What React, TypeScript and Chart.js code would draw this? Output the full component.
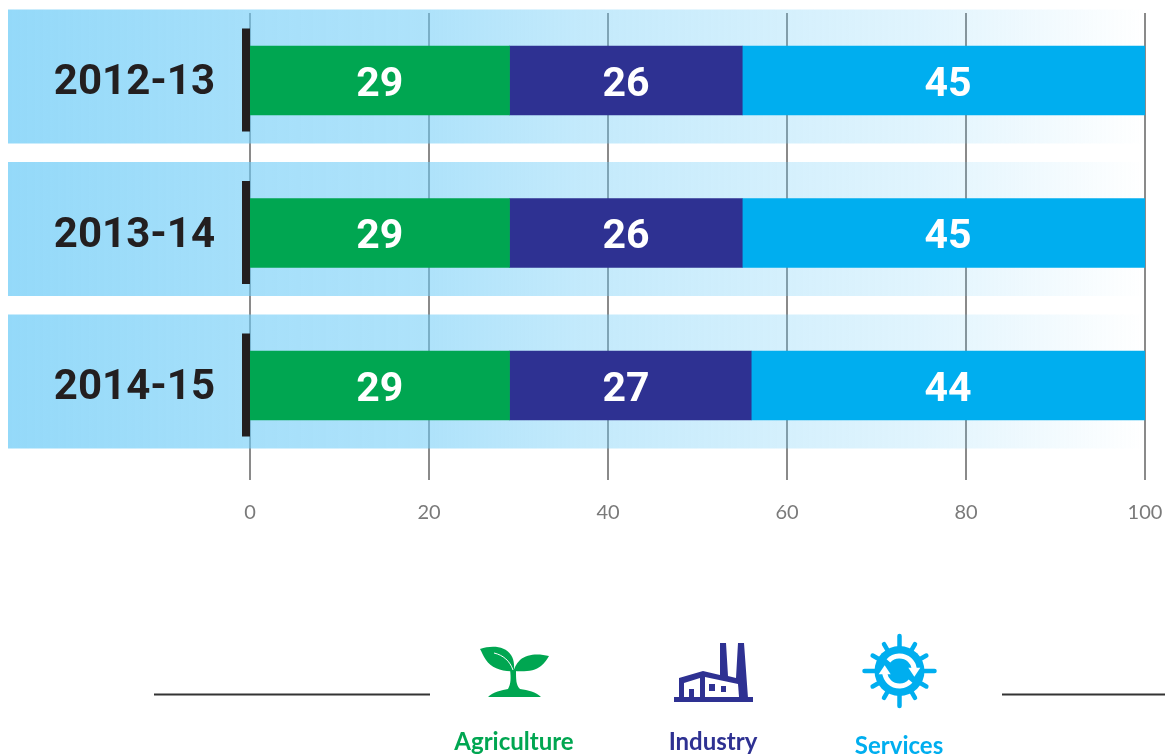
import React, { useEffect, useRef } from "react";
import { Chart, registerables } from "chart.js";

Chart.register(...registerables);

const years = ["2012-13", "2013-14", "2014-15"];
const agriculture = [29, 29, 29];
const industry = [26, 26, 27];
const services = [45, 45, 44];
const sectorNames = ["Agriculture", "Industry", "Services"];
const sectorColors = ["#00a651", "#2e3192", "#00aeef"];
// Where each sector's share is printed along the percentage axis.
const labelAnchors = [14.5, 42, 78];
const axisTicks = [0, 20, 40, 60, 80, 100];

// Grid lines first, then translucent gradient bands so the lines show through.
const backdrop = {
  id: "backdrop",
  beforeDraw(chart: any) {
    const { ctx } = chart;
    const x = chart.scales.x;
    const y = chart.scales.y;
    const left = 8;
    const right = x.getPixelForValue(100);
    ctx.save();
    ctx.strokeStyle = "#8a8a8a";
    ctx.lineWidth = 2;
    axisTicks.forEach((t) => {
      const px = x.getPixelForValue(t);
      ctx.beginPath();
      ctx.moveTo(px, 13);
      ctx.lineTo(px, 480);
      ctx.stroke();
    });
    years.forEach((_, i) => {
      const c = y.getPixelForValue(i);
      const g = ctx.createLinearGradient(left, 0, right, 0);
      g.addColorStop(0, "rgba(111,204,247,0.74)");
      g.addColorStop(0.21, "rgba(111,204,247,0.62)");
      g.addColorStop(0.37, "rgba(111,204,247,0.56)");
      g.addColorStop(0.5, "rgba(111,204,247,0.42)");
      g.addColorStop(0.8, "rgba(111,204,247,0.215)");
      g.addColorStop(1, "rgba(111,204,247,0)");
      ctx.fillStyle = g;
      ctx.fillRect(left, c - 71, right - left, 134);
    });
    ctx.restore();
  },
  beforeDatasetsDraw(chart: any) {
    const { ctx } = chart;
    const x = chart.scales.x;
    const y = chart.scales.y;
    ctx.save();
    ctx.fillStyle = "#231f20";
    years.forEach((_, i) => {
      const c = y.getPixelForValue(i);
      ctx.fillRect(x.getPixelForValue(0) - 8, c - 52, 8, 103);
    });
    ctx.restore();
  },
};

const valueLabels = {
  id: "valueLabels",
  afterDatasetsDraw(chart: any) {
    const { ctx } = chart;
    const x = chart.scales.x;
    const y = chart.scales.y;
    ctx.save();
    ctx.fillStyle = "#ffffff";
    ctx.font = "700 41px Roboto, sans-serif";
    ctx.textAlign = "center";
    ctx.textBaseline = "middle";
    chart.data.datasets.forEach((ds: any, d: number) => {
      ds.data.forEach((v: number, i: number) => {
        ctx.fillText(String(v), x.getPixelForValue(labelAnchors[d]), y.getPixelForValue(i) + 5);
      });
    });
    ctx.restore();
  },
};

function drawSprout(ctx: CanvasRenderingContext2D) {
  ctx.fillStyle = sectorColors[0];
  ctx.fill(new Path2D("M480 649C492 645 505 646 511 655C515 661 514 668 514 671C503 672 491 668 486 660C483 656 482 652 480 649Z"));
  ctx.fill(new Path2D("M549 656C540 654 528 653 520 660C516 664 514 668 514 671C525 672 535 671 541 666C545 663 547 659 549 656Z"));
  ctx.fill(new Path2D("M510 669L516 669C516 680 516 685 520 689C528 690 536 692 541 697L488 697C493 692 502 690 508 689C511 684 511 678 510 669Z"));
  ctx.strokeStyle = "#ffffff";
  ctx.lineWidth = 1;
  ctx.stroke(new Path2D("M494 653C503 655 510 661 513 670"));
}

function drawFactory(ctx: CanvasRenderingContext2D) {
  ctx.fillStyle = sectorColors[1];
  ctx.fill(new Path2D("M679 698L679 678L703 671L720 675L720 643L726 643L728 676L736 678L738 643L744 643L748 698Z"));
  ctx.fillRect(674, 697, 79, 5);
  ctx.fillStyle = "#ffffff";
  ctx.fill(new Path2D("M684 697L684 683L700 678L700 697Z"));
  ctx.fill(new Path2D("M705 697L705 677L738 684L739 697Z"));
  ctx.fillStyle = sectorColors[1];
  ctx.fillRect(689, 689, 5, 8);
  ctx.fillRect(709, 684, 6, 7);
  ctx.fillRect(721, 686, 5, 6);
}

function drawGear(ctx: CanvasRenderingContext2D) {
  const cx = 899.5;
  const cy = 671;
  ctx.save();
  ctx.translate(cx, cy);
  ctx.fillStyle = sectorColors[2];
  ctx.strokeStyle = sectorColors[2];
  ctx.lineCap = "round";
  ctx.lineWidth = 4.5;
  for (let k = 0; k < 12; k++) {
    const a = (k * Math.PI) / 6;
    const r = k % 3 === 0 ? 35 : 31;
    ctx.beginPath();
    ctx.moveTo(Math.cos(a) * 20, Math.sin(a) * 20);
    ctx.lineTo(Math.cos(a) * r, Math.sin(a) * r);
    ctx.stroke();
  }
  ctx.beginPath();
  ctx.arc(0, 0, 25, 0, Math.PI * 2);
  ctx.fill();
  ctx.strokeStyle = "#ffffff";
  ctx.fillStyle = "#ffffff";
  ctx.lineCap = "butt";
  ctx.lineWidth = 5;
  [0, Math.PI].forEach((rot) => {
    ctx.save();
    ctx.rotate(rot);
    ctx.beginPath();
    ctx.arc(0, 0, 15, -2.4, -0.15);
    ctx.stroke();
    ctx.translate(Math.cos(-0.15) * 15, Math.sin(-0.15) * 15);
    ctx.beginPath();
    ctx.moveTo(-6, -1);
    ctx.lineTo(6, -1);
    ctx.lineTo(0, 8);
    ctx.closePath();
    ctx.fill();
    ctx.restore();
  });
  ctx.restore();
}

// Sector key under the axis: rules, pictograms and captions.
const sectorKey = {
  id: "sectorKey",
  afterDraw(chart: any) {
    const { ctx } = chart;
    ctx.save();
    ctx.strokeStyle = "#333333";
    ctx.lineWidth = 2;
    ctx.beginPath();
    ctx.moveTo(154, 694.5);
    ctx.lineTo(430, 694.5);
    ctx.moveTo(1002, 694.5);
    ctx.lineTo(1165, 694.5);
    ctx.stroke();
    drawSprout(ctx);
    drawFactory(ctx);
    drawGear(ctx);
    ctx.textAlign = "center";
    ctx.textBaseline = "middle";
    ctx.font = "700 24px Lato, sans-serif";
    const captionX = [514, 713, 899];
    const captionY = [742, 742, 746];
    sectorNames.forEach((name, i) => {
      ctx.fillStyle = sectorColors[i];
      ctx.fillText(name, captionX[i], captionY[i]);
    });
    ctx.restore();
  },
};

// The axes keep a fixed size and reserve no extra room for overhanging labels.
const clearAxisPadding = (s: any) => {
  s.paddingLeft = 0;
  s.paddingRight = 0;
  s.paddingTop = 0;
  s.paddingBottom = 0;
};

export default function App() {
  const ref = useRef<HTMLCanvasElement | null>(null);
  useEffect(() => {
    if (!ref.current) return;
    const series = [agriculture, industry, services];
    const chart = new Chart(ref.current, {
      type: "bar",
      data: {
        labels: years,
        datasets: sectorNames.map((name, i) => ({
          label: name,
          data: series[i],
          backgroundColor: sectorColors[i],
          barThickness: 69,
          borderWidth: 0,
        })),
      },
      options: {
        indexAxis: "y",
        responsive: false,
        animation: false,
        layout: { autoPadding: false, padding: { top: 4.25, right: 20, left: 0, bottom: 0 } },
        plugins: { legend: { display: false }, tooltip: { enabled: false } },
        scales: {
          x: {
            stacked: true,
            min: 0,
            max: 100,
            afterBuildTicks: (s: any) => {
              s.ticks = axisTicks.map((value) => ({ value }));
            },
            afterFit: (s: any) => {
              clearAxisPadding(s);
              s.height = 293.25;
            },
            grid: { display: false },
            border: { display: false },
            ticks: {
              padding: 31,
              color: "#7a7a7a",
              font: { family: "Lato", size: 20 },
              maxRotation: 0,
            },
          },
          y: {
            stacked: true,
            afterFit: (s: any) => {
              clearAxisPadding(s);
              s.width = 250;
            },
            grid: { display: false },
            border: { display: false },
            ticks: {
              padding: 27,
              labelOffset: 3,
              color: "#231f20",
              font: { family: "Roboto", size: 42, weight: 700 },
            },
          },
        },
      },
      plugins: [backdrop, valueLabels, sectorKey],
    } as any);
    return () => chart.destroy();
  }, []);
  return (
    <div style={{ position: "fixed", left: 0, top: 0, width: 1165, height: 755, background: "#ffffff" }}>
      <canvas ref={ref} width={1165} height={755} style={{ display: "block" }} />
    </div>
  );
}
